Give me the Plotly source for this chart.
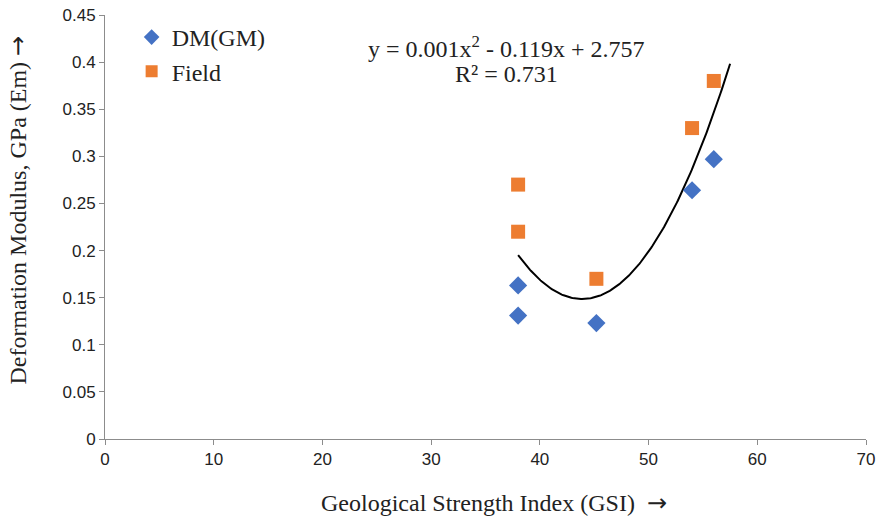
import numpy as np
import plotly.graph_objects as go

# Data
gsi_dm = [38, 38, 45.2, 54, 56]
em_dm = [0.163, 0.131, 0.123, 0.264, 0.297]
gsi_field = [38, 38, 45.2, 54, 56]
em_field = [0.27, 0.22, 0.17, 0.33, 0.38]
trend_x_range = [38, 57.5]
x_ticks = [0, 10, 20, 30, 40, 50, 60, 70]
y_ticks = [0, 0.05, 0.1, 0.15, 0.2, 0.25, 0.3, 0.35, 0.4, 0.45]

# Polynomial (order 2) trendline fitted on all points
all_x = np.array(gsi_dm + gsi_field, dtype=float)
all_y = np.array(em_dm + em_field, dtype=float)
coef = np.polyfit(all_x, all_y, 2)
tx = np.linspace(trend_x_range[0], trend_x_range[1], 200)
ty = np.polyval(coef, tx)

serif = "Liberation Serif, Times New Roman, serif"
sans = "Liberation Sans, Arial, sans-serif"
arrow = '<span style="font-family:DejaVu Sans">→</span>'
txt_color = "#222"

fig = go.Figure()
fig.add_trace(go.Scatter(x=tx, y=ty, mode="lines", line=dict(color="black", width=2),
                         showlegend=False, hoverinfo="skip"))
fig.add_trace(go.Scatter(x=gsi_dm, y=em_dm, mode="markers", name="DM(GM)",
                         marker=dict(symbol="diamond", size=14, color="#4472C4")))
fig.add_trace(go.Scatter(x=gsi_field, y=em_field, mode="markers", name="Field",
                         marker=dict(symbol="square", size=14, color="#ED7D31")))

axis_common = dict(showgrid=False, zeroline=False, showline=True, linecolor="#8c8c8c",
                   linewidth=1, ticks="outside", ticklen=5, tickcolor="#8c8c8c",
                   automargin=False, ticklabeloverflow="allow",
                   tickfont=dict(family=sans, size=17, color=txt_color))

fig.update_layout(
    width=878, height=518,
    margin=dict(l=105, r=12, t=15, b=79),
    plot_bgcolor="white", paper_bgcolor="white",
    xaxis=dict(range=[0, 70], tickvals=x_ticks, **axis_common),
    yaxis=dict(range=[0, 0.45], tickvals=y_ticks, **axis_common),
    legend=dict(x=0.035, y=1.0, xanchor="left", yanchor="top",
                font=dict(family=serif, size=24, color=txt_color),
                bgcolor="rgba(0,0,0,0)", tracegroupgap=0, itemsizing="constant"),
    annotations=[
        dict(x=0.527, y=0.925, xref="paper", yref="paper", showarrow=False,
             xanchor="center", yanchor="middle",
             text="y = 0.001x<sup>2</sup> - 0.119x + 2.757",
             font=dict(family=serif, size=24, color=txt_color)),
        dict(x=0.527, y=0.862, xref="paper", yref="paper", showarrow=False,
             xanchor="center", yanchor="middle",
             text="R² = 0.731",
             font=dict(family=serif, size=24, color=txt_color)),
        dict(x=0.511, y=-0.151, xref="paper", yref="paper", showarrow=False,
             xanchor="center", yanchor="middle",
             text="Geological Strength Index (GSI)  " + arrow,
             font=dict(family=serif, size=24, color=txt_color)),
        dict(x=-0.1137, y=0.54, xref="paper", yref="paper", showarrow=False,
             xanchor="center", yanchor="middle", textangle=-90,
             text="Deformation Modulus, GPa (Em) " + arrow,
             font=dict(family=serif, size=24, color=txt_color)),
    ],
)

# Remove the default page margin so the 878x518 figure fills the window exactly.
fig.write_html("out.html",
               config={"displayModeBar": False},
               post_script="document.body.style.margin='0';document.body.style.overflow='hidden';")
